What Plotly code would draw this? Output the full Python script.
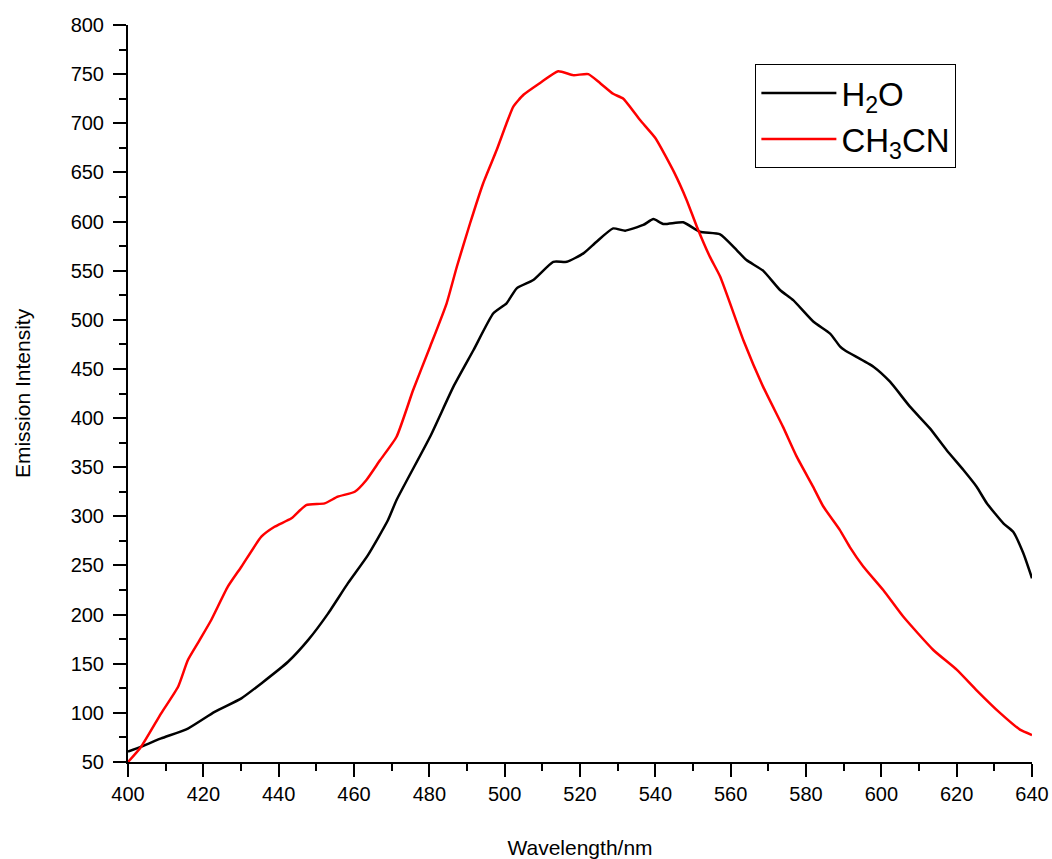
import plotly.graph_objects as go

# H2O emission spectrum (wavelength nm, intensity)
h2o_wl = [400, 403.5, 408.8, 415.9, 423, 430.1, 435.4, 442.5, 447.8, 453.1, 458.4, 463.7,
          469, 471.3, 480.2, 486.4, 491.7, 497, 500.5, 503.2, 507.6, 512.9, 516.5, 520.9,
          524.4, 528.8, 532, 536.8, 539.5, 542.1, 547.4, 551.8, 557.2, 561.6, 564.2, 568.6,
          573.1, 576.6, 582, 586.4, 589, 590.3, 597.9, 602.3, 607.6, 612.9, 617.3, 621.8,
          625.3, 628, 632.4, 635, 637.7, 640]
h2o_int = [60.5, 65.6, 74, 84, 101, 114.8, 130, 152, 174, 201, 232, 260.6,
           296, 316.6, 381, 432, 469, 506.6, 516.8, 532, 540.5, 559, 559, 567.6,
           579.5, 593, 590.7, 596.5, 602.5, 597.5, 599.2, 589.6, 587, 571, 560.8, 550,
           530.3, 520, 498, 486, 473, 469, 452.3, 437, 411.6, 389.5, 367.5, 347.1,
           330.1, 313.3, 292.9, 284.3, 262.4, 237]

# CH3CN emission spectrum
ch3cn_wl = [400, 403.5, 408.8, 413.3, 415.9, 419, 422.1, 426.5, 430.1, 435.4, 438.9, 443.4,
            447.3, 452.2, 455.7, 460.2, 463.3, 466.9, 471.3, 475.7, 480.2, 484.6, 487.3,
            490.8, 494.3, 497.9, 500.5, 502.3, 505, 509.4, 514.2, 518.2, 522.2, 525.3,
            528.8, 531.5, 536, 540, 545, 548.3, 551, 554.5, 557.2, 563.4, 568.6, 573.9,
            577.5, 581.9, 584.6, 589, 591.6, 595.2, 600.5, 605.8, 613.8, 620, 625.3,
            631.5, 636.8, 640]
ch3cn_int = [50, 65.6, 99.5, 126.6, 153.8, 174, 194.5, 228.4, 248.7, 279.3, 289.4, 298,
             311.5, 313.2, 320, 325, 337, 357, 381, 428.5, 472.6, 516.8, 554,
             598, 639, 673, 700, 717, 729, 741, 753, 749, 750, 741,
             730, 725, 703, 685, 650, 622, 595, 564, 544, 479, 432, 391,
             361, 330, 310, 286, 269, 249, 225, 198, 164, 144, 123,
             100, 83, 77.5]

x_ticks = list(range(400, 641, 20))
y_ticks = list(range(50, 801, 50))

FONT = "Liberation Sans, Arial, sans-serif"

fig = go.Figure()
fig.add_trace(go.Scatter(x=h2o_wl, y=h2o_int, mode="lines", name="H<sub>2</sub>O",
                         line=dict(color="black", width=2.5, shape="spline", smoothing=0.5)))
fig.add_trace(go.Scatter(x=ch3cn_wl, y=ch3cn_int, mode="lines", name="CH<sub>3</sub>CN",
                         line=dict(color="#ff0000", width=2.5, shape="spline", smoothing=0.5)))

axis_common = dict(
    showgrid=False, zeroline=False, showline=True, linecolor="black", linewidth=2,
    ticks="outside", ticklen=13, tickwidth=2, tickcolor="black",
    tickfont=dict(family=FONT, size=20, color="black"),
    mirror=False, automargin=False,
)

fig.update_xaxes(range=[400, 640], tickvals=x_ticks,
                 minor=dict(dtick=10, ticklen=7, tickwidth=2, tickcolor="black", ticks="outside", tick0=400),
                 title=dict(text="Wavelength/nm", font=dict(family=FONT, size=21, color="black"), standoff=36),
                 **axis_common)
fig.update_yaxes(range=[50, 800], tickvals=y_ticks, ticklabelstandoff=5,
                 minor=dict(dtick=25, ticklen=7, tickwidth=2, tickcolor="black", ticks="outside", tick0=50),
                 title=dict(text="Emission Intensity", font=dict(family=FONT, size=21, color="black"), standoff=34),
                 **axis_common)

fig.update_layout(
    width=1052, height=859,
    margin=dict(l=128, r=20, t=25, b=97),
    plot_bgcolor="white", paper_bgcolor="white",
    font=dict(family=FONT, color="black"),
    legend=dict(x=0.694, y=0.947, xanchor="left", yanchor="top",
                bordercolor="black", borderwidth=1, bgcolor="white",
                font=dict(family=FONT, size=33, color="black"),
                itemwidth=75, tracegroupgap=0),
)

fig.write_html("out.html")
